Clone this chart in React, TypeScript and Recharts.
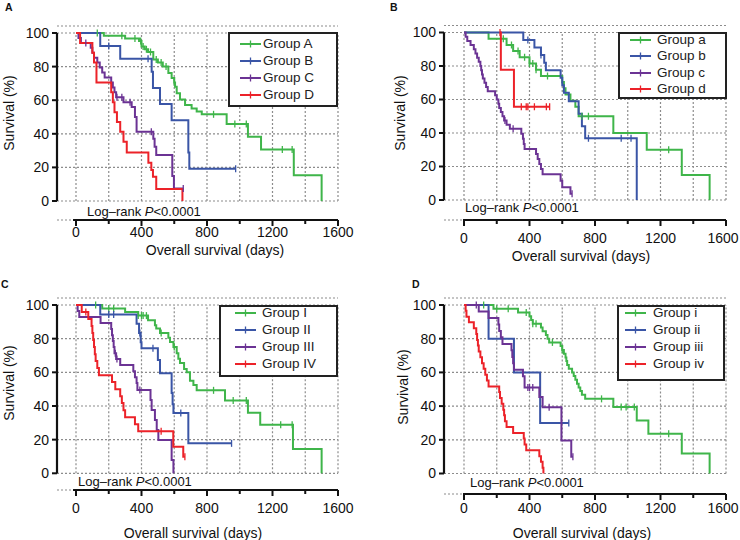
import {CartesianGrid, ComposedChart, Legend, Line, ReferenceLine, XAxis, YAxis} from 'recharts';

type Step = [number, number];

interface Group {
  name: string;
  color: string;
  events: Step[]; // [day, survival % after the drop]
  censored: number[]; // days of censored patients
  start?: number;
}

interface Geometry {
  axisX: number;
  x0: number;
  x1600: number;
  y100: number;
  y0: number;
  xAxisY: number;
  xAxisStart: number;
  tickGap: number;
  lastTickShift: number;
}

interface LegendBox {
  left: number;
  top: number;
  width: number;
  height: number;
  padTop: number;
  rowH: number;
  sampleX: number;
  textX: number;
}

const GREEN = '#3fb54a';
const BLUE = '#3a55a6';
const PURPLE = '#6b3394';
const RED = '#ec2229';
const GRID = '#8c8c8c';

const DAY_TICKS = [0, 200, 400, 600, 800, 1000, 1200, 1400, 1600];
const SURV_TICKS = [0, 20, 40, 60, 80, 100];

const NAMES_A = ['Group A', 'Group B', 'Group C', 'Group D'];
const NAMES_B = ['Group a', 'Group b', 'Group c', 'Group d'];
const NAMES_C = ['Group I', 'Group II', 'Group III', 'Group IV'];
const NAMES_D = ['Group i', 'Group ii', 'Group iii', 'Group iv'];

// ---- panel A ----
const aGreen: Step[] = [[170, 98.4], [300, 96.8], [385, 95.2], [400, 91.9], [420, 90.3], [440, 88.7], [472, 84.2], [500, 82.5], [530, 80], [564, 76.2], [584, 73.2], [600, 70.5], [605, 68], [615, 64.2], [635, 60.4], [666, 57.2], [706, 55], [737, 53.2], [768, 51.6], [920, 45.8], [1050, 38.2], [1130, 30.6], [1330, 15.3], [1500, 0]];
const aGreenCens = [130, 280, 360, 395, 410, 430, 455, 490, 520, 550, 600, 840, 970, 1040, 1260, 1320];
const aBlue: Step[] = [[148, 92.3], [270, 84.6], [462, 76.9], [470, 67.3], [513, 57.7], [584, 48.1], [686, 28.8], [692, 19.2]];
const aBlueCens = [200, 440, 975];
const aPurple: Step[] = [[15, 97], [30, 94.1], [90, 91.2], [100, 88.2], [110, 85.3], [130, 82.4], [145, 79.4], [160, 76.5], [175, 73.5], [215, 70.6], [225, 67.6], [235, 64.7], [245, 61.8], [290, 58.8], [340, 55.9], [360, 50], [370, 41.2], [472, 37], [480, 32.3], [490, 27.4], [588, 14.9], [598, 7.5]];
const aPurpleCens = [60, 250, 280, 330, 460, 655];
const aRed: Step[] = [[25, 94.1], [100, 88.2], [110, 82.4], [125, 70.6], [215, 64.7], [225, 58.8], [235, 52.9], [250, 47], [270, 41.2], [290, 35.3], [310, 28.8], [442, 22.8], [460, 18.5], [470, 14.4], [490, 7.2], [650, 0]];
const aRedCens: number[] = [];

// ---- panel B ----
const bGreen: Step[] = [[150, 96.3], [260, 92.6], [300, 88.9], [340, 85.2], [400, 81.5], [440, 77.8], [470, 74.1], [600, 70.4], [610, 66.7], [620, 63], [650, 59.3], [680, 55.6], [700, 50], [912, 40], [1116, 30], [1330, 15], [1500, 0]];
const bGreenCens = [240, 290, 330, 370, 400, 420, 440, 510, 720, 760, 1250];
const bBlue: Step[] = [[362, 95.5], [430, 91], [470, 86.5], [490, 82], [500, 77.5], [590, 73], [600, 68.5], [610, 64], [640, 59], [700, 51.5], [720, 44], [740, 36.8], [1055, 0]];
const bBlueCens = [390, 470, 760, 960, 1020];
const bPurple: Step[] = [[10, 97.5], [20, 95], [40, 92.5], [60, 90], [70, 87.5], [80, 85], [90, 82.5], [100, 80], [105, 77.5], [110, 75], [115, 72.5], [125, 70], [135, 67.5], [145, 65], [190, 62.5], [200, 60], [210, 57.5], [215, 55], [225, 52.5], [235, 50], [245, 47.5], [260, 45], [280, 42.5], [350, 39.5], [360, 36.5], [365, 33.5], [370, 30.5], [440, 27.5], [450, 24.5], [460, 21.5], [470, 18.5], [480, 15.3], [590, 11.5], [600, 7.6], [650, 3.8]];
const bPurpleCens = [250, 300, 660];
const bRed: Step[] = [[225, 77.8], [305, 55.6]];
const bRedCens = [220, 350, 380, 390, 430, 503, 523];

// ---- panel C ----
const cGreen: Step[] = [[160, 97.9], [300, 95.8], [380, 93.7], [440, 91], [482, 88], [490, 86], [513, 83.4], [564, 80.5], [574, 78], [595, 75], [615, 71.4], [625, 68], [635, 65.5], [660, 62], [676, 60], [696, 55], [717, 52.5], [737, 49.3], [910, 43.2], [1050, 36], [1125, 28.8], [1325, 14.4], [1500, 0]];
const cGreenCens = [120, 200, 230, 380, 400, 410, 430, 520, 600, 840, 960, 1040, 1250, 1320];
const cBlue: Step[] = [[148, 94.4], [370, 88.9], [385, 83.3], [395, 77.8], [400, 74.3], [500, 67.3], [513, 59.4], [584, 47.7], [590, 41], [595, 35.8], [686, 17.8]];
const cBlueCens = [200, 230, 390, 470, 640, 950];
const cPurple: Step[] = [[10, 96.4], [20, 92.9], [150, 89.3], [215, 85.7], [220, 82.1], [225, 78.6], [230, 75], [235, 71.4], [245, 67.9], [270, 64.3], [350, 60.7], [360, 57.1], [370, 53.6], [375, 49.5], [455, 43.6], [462, 37.6], [482, 31.7], [493, 25.7], [503, 19.8], [584, 7.9], [595, 0]];
const cPurpleCens = [240, 250, 390];
const cRed: Step[] = [[35, 95.8], [75, 91.7], [95, 87.5], [100, 83.3], [105, 79.2], [110, 75], [115, 70.8], [120, 66.7], [130, 62.5], [140, 58.3], [220, 54.2], [240, 50], [270, 45.8], [280, 41.7], [290, 37.5], [300, 33.3], [360, 29.2], [380, 25], [594, 15.8], [655, 9.9]];
const cRedCens = [60, 520, 665];

// ---- panel D ----
const dGreen: Step[] = [[180, 97.8], [330, 95.6], [400, 93.3], [410, 91.1], [420, 88.9], [470, 86.7], [480, 84.4], [500, 82.2], [510, 80], [520, 77.8], [590, 75.6], [600, 73.3], [610, 71.1], [620, 68.9], [625, 66.7], [630, 64.4], [640, 62.2], [660, 60], [670, 57.8], [680, 55.6], [690, 53.3], [700, 51.1], [710, 48.9], [720, 46.7], [740, 44.3], [912, 39.4], [1055, 31.5], [1126, 23.6], [1330, 11.8], [1500, 0]];
const dGreenCens = [120, 200, 270, 380, 420, 440, 540, 600, 840, 960, 990, 1040, 1250];
const dBlue: Step[] = [[150, 80], [305, 60], [465, 30]];
const dBlueCens = [640];
const dPurple: Step[] = [[90, 96.2], [150, 92.3], [210, 88.5], [215, 84.6], [225, 80.8], [235, 76.9], [290, 73.1], [295, 69.2], [300, 65.4], [305, 61.5], [360, 57.7], [370, 51], [460, 45.4], [480, 39.3], [595, 19.6], [655, 10]];
const dPurpleCens = [75, 390, 400, 420, 520, 665];
const dRed: Step[] = [[10, 96.6], [15, 93.1], [30, 89.7], [60, 86.2], [75, 82.8], [80, 79.3], [85, 75.9], [90, 72.4], [100, 69], [110, 65.5], [120, 62.1], [130, 58.6], [140, 55.2], [150, 51.7], [215, 48.3], [220, 44.8], [230, 41.4], [240, 37.9], [245, 34.5], [250, 31], [260, 27.6], [300, 24.1], [365, 20.7], [370, 17.2], [380, 13.8], [460, 10.3], [470, 6.9], [480, 3.4], [485, 0]];
const dRedCens: number[] = [];

const FONT = '"Liberation Sans", Arial, Helvetica, sans-serif';
const W = 370;
const H = 270;

// merge events and censor days into one stepAfter series
function toPoints(g: Group) {
  const start = g.start ?? 0;
  const marks = [
    ...g.events.map(([x, y]) => ({x, y, c: false})),
    ...g.censored.map((x) => ({x, y: 0, c: true})),
  ].sort((p, q) => p.x - q.x || Number(p.c) - Number(q.c));
  let s = 100;
  const pts = [{x: start, y: 100, c: false}];
  for (const m of marks) {
    if (m.c) {
      if (m.x === start) pts[0].c = true;
      else pts.push({x: m.x, y: s, c: true});
    } else {
      s = m.y;
      pts.push({x: m.x, y: s, c: false});
    }
  }
  return pts;
}

const censorDot = (color: string) => (props: any) => {
  const {cx, cy, payload, index} = props;
  if (!payload || !payload.c) return <g key={`n${index}`} />;
  return <line key={`c${index}`} x1={cx} x2={cx} y1={cy - 3.5} y2={cy + 3.5} stroke={color} strokeWidth={1.3} />;
};

interface PanelProps {
  left: number;
  top: number;
  letter: string;
  letterPos: [number, number];
  geo: Geometry;
  legend: LegendBox;
  groups: Group[];
  yTitle: [number, number];
  xTitle: [number, number];
  logRank: [number, number];
}

function Panel({left, top, letter, letterPos, geo, legend, groups, yTitle, xTitle, logRank}: PanelProps) {
  const xScale = (geo.x1600 - geo.x0) / 1600;
  const xMin = -(geo.x0 - geo.axisX) / xScale;
  const plotTop = geo.y100 - 7;
  const yScale = (geo.y0 - geo.y100) / 100;
  const yMax = 100 + 7 / yScale;
  const yMin = -(geo.xAxisY - geo.y0) / yScale;

  const renderXTick = (props: any) => {
    const {x, y, payload} = props;
    const major = payload.value % 400 === 0;
    const tx = payload.value === 1600 ? x - geo.lastTickShift : x;
    return (
      <g>
        <line x1={x} x2={x} y1={y} y2={y + (major ? 6 : 4)} stroke="#111" strokeWidth={2} />
        {major && (
          <text x={tx} y={y + geo.tickGap} dy="0.35em" textAnchor="middle" fontSize={14} fill="#111" fontFamily={FONT}>
            {payload.value}
          </text>
        )}
      </g>
    );
  };

  const renderLegend = () => (
    <div
      style={{
        position: 'relative',
        width: legend.width,
        height: legend.height,
        border: '2px solid #222',
        boxSizing: 'border-box',
        background: '#fff',
        fontFamily: FONT,
        fontSize: 13.5,
        color: '#222',
      }}
    >
      {groups.map((g, i) => {
        const cy = legend.padTop + i * legend.rowH - 2;
        return (
          <div key={g.name}>
            <svg style={{position: 'absolute', left: legend.sampleX - 2, top: cy - 5}} width={22} height={10}>
              <line x1={0} x2={21} y1={5} y2={5} stroke={g.color} strokeWidth={2} />
              <line x1={10.5} x2={10.5} y1={1.5} y2={8.5} stroke={g.color} strokeWidth={1.3} />
            </svg>
            <span style={{position: 'absolute', left: legend.textX - 2, top: cy - 9, lineHeight: '18px', whiteSpace: 'nowrap'}}>
              {g.name}
            </span>
          </div>
        );
      })}
    </div>
  );

  const textBase = {position: 'absolute' as const, fontFamily: FONT, color: '#111', whiteSpace: 'nowrap' as const};

  return (
    <div style={{position: 'absolute', left, top, width: W, height: H}}>
      <ComposedChart width={W} height={H} margin={{top: plotTop, right: W - geo.x1600, bottom: 0, left: 0}}>
        <XAxis
          dataKey="x"
          type="number"
          domain={[xMin, 1600]}
          allowDataOverflow
          ticks={DAY_TICKS}
          interval={0}
          height={H - geo.xAxisY}
          axisLine={false}
          tickLine={false}
          tickSize={0}
          tickMargin={0}
          tick={renderXTick}
        />
        <YAxis
          type="number"
          domain={[yMin, yMax]}
          allowDataOverflow
          ticks={SURV_TICKS}
          interval={0}
          width={geo.axisX}
          axisLine={false}
          tickSize={5}
          tickMargin={3}
          tickLine={{stroke: '#111', strokeWidth: 2}}
          tick={{fontSize: 14, fill: '#111', fontFamily: FONT}}
        />
        <CartesianGrid vertical={false} stroke={GRID} strokeOpacity={1} strokeWidth={1.2} strokeDasharray="2 2" />
        {DAY_TICKS.map((d) => (
          <ReferenceLine
            key={`v${d}`}
            segment={[{x: d, y: 0}, {x: d, y: 100}]}
            stroke={GRID}
            strokeOpacity={1}
            strokeWidth={1.2}
            strokeDasharray="2 2"
          />
        ))}
        <ReferenceLine segment={[{x: xMin, y: 0}, {x: xMin, y: 100}]} stroke="#111" strokeWidth={2.2} />
        <ReferenceLine segment={[{x: geo.xAxisStart, y: yMin}, {x: 1600, y: yMin}]} stroke="#111" strokeWidth={2.2} />
        {groups.map((g) => (
          <Line
            key={g.name}
            name={g.name}
            data={toPoints(g)}
            dataKey="y"
            type="stepAfter"
            stroke={g.color}
            strokeWidth={2}
            dot={censorDot(g.color)}
            activeDot={false}
            isAnimationActive={false}
          />
        ))}
        <Legend
          layout="vertical"
          align="center"
          verticalAlign="middle"
          content={renderLegend}
          wrapperStyle={{left: legend.left, top: legend.top, width: legend.width, height: legend.height}}
        />
      </ComposedChart>
      <div style={{...textBase, left: letterPos[0], top: letterPos[1], fontSize: 10.5, fontWeight: 'bold', lineHeight: '12px'}}>
        {letter}
      </div>
      <div
        style={{
          ...textBase,
          left: yTitle[0],
          top: yTitle[1],
          fontSize: 14,
          transform: 'translate(-50%, -50%) rotate(-90deg)',
        }}
      >
        Survival (%)
      </div>
      <div style={{...textBase, left: xTitle[0], top: xTitle[1], fontSize: 14, transform: 'translate(-50%, -50%)'}}>
        Overall survival (days)
      </div>
      <div style={{...textBase, left: logRank[0], top: logRank[1], fontSize: 13, transform: 'translateY(-50%)'}}>
        Log–rank <i>P</i>&lt;0.0001
      </div>
    </div>
  );
}

const groupsA: Group[] = [
  {name: NAMES_A[0], color: GREEN, events: aGreen, censored: aGreenCens},
  {name: NAMES_A[1], color: BLUE, events: aBlue, censored: aBlueCens},
  {name: NAMES_A[2], color: PURPLE, events: aPurple, censored: aPurpleCens},
  {name: NAMES_A[3], color: RED, events: aRed, censored: aRedCens},
];
const groupsB: Group[] = [
  {name: NAMES_B[0], color: GREEN, events: bGreen, censored: bGreenCens},
  {name: NAMES_B[1], color: BLUE, events: bBlue, censored: bBlueCens},
  {name: NAMES_B[2], color: PURPLE, events: bPurple, censored: bPurpleCens},
  {name: NAMES_B[3], color: RED, events: bRed, censored: bRedCens, start: 220},
];
const groupsC: Group[] = [
  {name: NAMES_C[0], color: GREEN, events: cGreen, censored: cGreenCens},
  {name: NAMES_C[1], color: BLUE, events: cBlue, censored: cBlueCens},
  {name: NAMES_C[2], color: PURPLE, events: cPurple, censored: cPurpleCens},
  {name: NAMES_C[3], color: RED, events: cRed, censored: cRedCens},
];
const groupsD: Group[] = [
  {name: NAMES_D[0], color: GREEN, events: dGreen, censored: dGreenCens},
  {name: NAMES_D[1], color: BLUE, events: dBlue, censored: dBlueCens},
  {name: NAMES_D[2], color: PURPLE, events: dPurple, censored: dPurpleCens},
  {name: NAMES_D[3], color: RED, events: dRed, censored: dRedCens},
];

export default function App() {
  return (
    <div style={{position: 'absolute', left: 0, top: 0, width: 740, height: 540, background: '#fff', overflow: 'hidden'}}>
      <Panel
        left={0}
        top={0}
        letter="A"
        letterPos={[5, 1]}
        geo={{axisX: 57, x0: 76, x1600: 338, y100: 33, y0: 201, xAxisY: 220, xAxisStart: -18, tickGap: 12, lastTickShift: 0}}
        legend={{left: 228, top: 32, width: 110, height: 75, padTop: 12, rowH: 17, sampleX: 12, textX: 35}}
        groups={groupsA}
        yTitle={[9, 113]}
        xTitle={[215, 250]}
        logRank={[87, 211]}
      />
      <Panel
        left={370}
        top={0}
        letter="B"
        letterPos={[20, 1]}
        geo={{axisX: 74, x0: 94, x1600: 356, y100: 32.5, y0: 200, xAxisY: 220, xAxisStart: -6, tickGap: 18, lastTickShift: 3}}
        legend={{left: 248, top: 32, width: 109, height: 67, padTop: 8, rowH: 16.3, sampleX: 12, textX: 39}}
        groups={groupsB}
        yTitle={[30, 113]}
        xTitle={[211, 256]}
        logRank={[95, 207]}
      />
      <Panel
        left={0}
        top={270}
        letter="C"
        letterPos={[1, 8]}
        geo={{axisX: 57, x0: 76, x1600: 338, y100: 35, y0: 203.3, xAxisY: 220, xAxisStart: -18, tickGap: 18, lastTickShift: 0}}
        legend={{left: 219, top: 35, width: 119, height: 72, padTop: 8, rowH: 17, sampleX: 16, textX: 43}}
        groups={groupsC}
        yTitle={[9, 113]}
        xTitle={[193, 263]}
        logRank={[78, 211]}
      />
      <Panel
        left={370}
        top={270}
        letter="D"
        letterPos={[42, 8]}
        geo={{axisX: 74, x0: 94, x1600: 356, y100: 35, y0: 203.5, xAxisY: 224, xAxisStart: -6, tickGap: 14, lastTickShift: 3}}
        legend={{left: 247, top: 35, width: 108, height: 76, padTop: 8, rowH: 17, sampleX: 8, textX: 36}}
        groups={groupsD}
        yTitle={[33, 117]}
        xTitle={[212, 263]}
        logRank={[100, 212]}
      />
    </div>
  );
}
